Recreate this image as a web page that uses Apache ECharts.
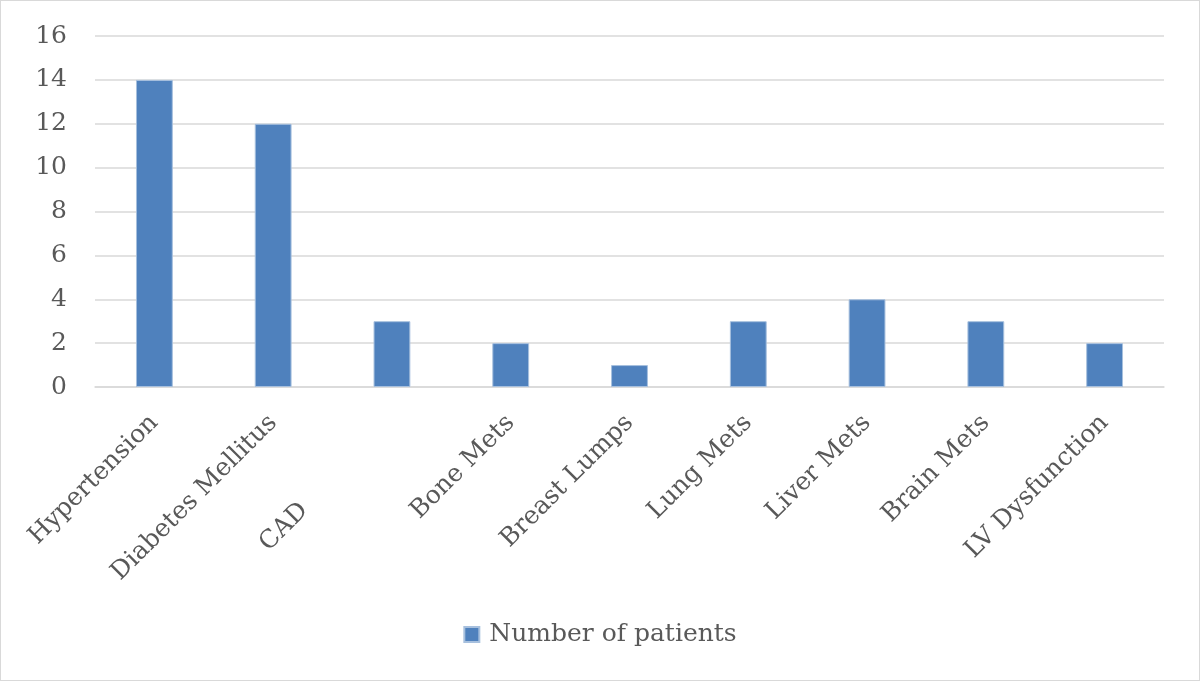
<!DOCTYPE html>
<html>
<head>
<meta charset="utf-8">
<script src="https://cdn.jsdelivr.net/npm/echarts@6/dist/echarts.min.js"></script>
<style>
html,body{margin:0;padding:0;background:#fff;}
#main{width:1200px;height:681px;box-sizing:border-box;border:1px solid #d9d9d9;}
</style>
</head>
<body>
<div id="main"></div>
<script>
const categories = ["Hypertension","Diabetes Mellitus","CAD","Bone Mets","Breast Lumps","Lung Mets","Liver Mets","Brain Mets","LV Dysfunction"];
const patients = [14,12,3,2,1,3,4,3,2];
const seriesName = "Number of patients";

const font = "'DejaVu Serif','Liberation Serif',serif";
// The CAD label in the original sits further down its diagonal (trailing spaces)
const categoryItems = categories.map(c => c === "CAD" ? {value:c, textStyle:{padding:[0,124,0,0]}} : c);

const chart = echarts.init(document.getElementById('main'));
chart.setOption({
  animation:false,
  textStyle:{fontFamily:font},
  grid:{left:94,right:35,top:35,bottom:293,containLabel:false},
  legend:{
    bottom:28,left:'center',
    itemWidth:15,itemHeight:15,itemGap:10,
    icon:'rect',
    textStyle:{fontSize:25,color:'#595959',fontFamily:font,padding:[0,0,0,5]},
    data:[seriesName]
  },
  xAxis:{
    type:'category',
    data:categoryItems,
    axisLine:{show:true,lineStyle:{color:'#d9d9d9',width:1.5}},
    axisTick:{show:false},
    axisLabel:{rotate:45,fontSize:25,color:'#595959',fontFamily:font,margin:32,interval:0}
  },
  yAxis:{
    type:'value',min:0,max:16,interval:2,
    axisLine:{show:false},axisTick:{show:false},
    splitLine:{lineStyle:{color:'#d9d9d9',width:1.5}},
    axisLabel:{fontSize:25,color:'#595959',fontFamily:font,margin:28}
  },
  series:[{
    name:seriesName,type:'bar',data:patients,
    barWidth:'31%',
    itemStyle:{color:'#4f81bd',borderColor:'#a7c0de',borderWidth:1}
  }]
});
</script>
</body>
</html>
